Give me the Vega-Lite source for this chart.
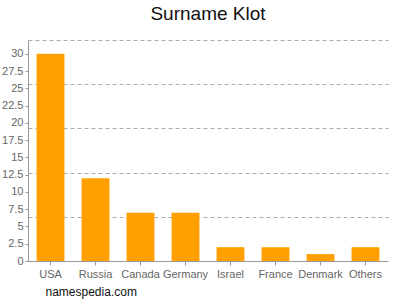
{
  "$schema": "https://vega.github.io/schema/vega-lite/v6.json",
  "width": 360,
  "height": 221,
  "autosize": {"type": "none"},
  "padding": {"left": 28, "top": 40, "right": 12, "bottom": 39},
  "background": "white",
  "config": {
    "view": {"stroke": null},
    "font": "Liberation Sans"
  },
  "title": {
    "text": "Surname Klot",
    "fontSize": 19,
    "fontWeight": "normal",
    "color": "#111111",
    "font": "Liberation Sans",
    "anchor": "middle",
    "offset": 16
  },
  "data": {
    "values": [
      {"country": "USA", "count": 30},
      {"country": "Russia", "count": 12},
      {"country": "Canada", "count": 7},
      {"country": "Germany", "count": 7},
      {"country": "Israel", "count": 2},
      {"country": "France", "count": 2},
      {"country": "Denmark", "count": 1},
      {"country": "Others", "count": 2}
    ]
  },
  "encoding": {
    "x": {
      "field": "country",
      "type": "nominal",
      "sort": null,
      "scale": {"paddingInner": 0.38, "paddingOuter": 0.19},
      "axis": {
        "title": "namespedia.com",
        "titleAnchor": "start",
        "titleAlign": "left",
        "titleBaseline": "alphabetic",
        "titleX": 17,
        "titleY": 34,
        "titleFontSize": 12,
        "titleFontWeight": "normal",
        "titleColor": "#111111",
        "labelAngle": 0,
        "labelFontSize": 11,
        "labelColor": "#666666",
        "labelPadding": 3,
        "domainColor": "#999999",
        "tickColor": "#999999",
        "tickSize": 4,
        "grid": false
      }
    }
  },
  "layer": [
    {
      "mark": {"type": "bar", "color": "#ffa000"},
      "encoding": {
        "y": {
          "field": "count",
          "type": "quantitative",
          "scale": {"domain": [0, 32], "nice": false},
          "axis": {
            "title": null,
            "values": [0, 2.5, 5, 7.5, 10, 12.5, 15, 17.5, 20, 22.5, 25, 27.5, 30],
            "format": ".1~f",
            "labelFontSize": 11,
            "labelColor": "#666666",
            "labelPadding": 2,
            "domainColor": "#999999",
            "tickColor": "#999999",
            "tickSize": 3,
            "grid": false
          }
        }
      }
    },
    {
      "mark": {"type": "bar", "opacity": 0},
      "encoding": {
        "y": {
          "field": "count",
          "type": "quantitative",
          "scale": {"domain": [0, 32], "nice": false},
          "axis": {
            "orient": "left",
            "title": null,
            "values": [6.4, 12.8, 19.2, 25.6, 32],
            "labels": false,
            "ticks": false,
            "domain": false,
            "grid": true,
            "gridColor": "#aaaaaa",
            "gridDash": [4, 3],
            "zindex": 0
          }
        }
      }
    }
  ],
  "resolve": {"axis": {"y": "independent"}}
}
